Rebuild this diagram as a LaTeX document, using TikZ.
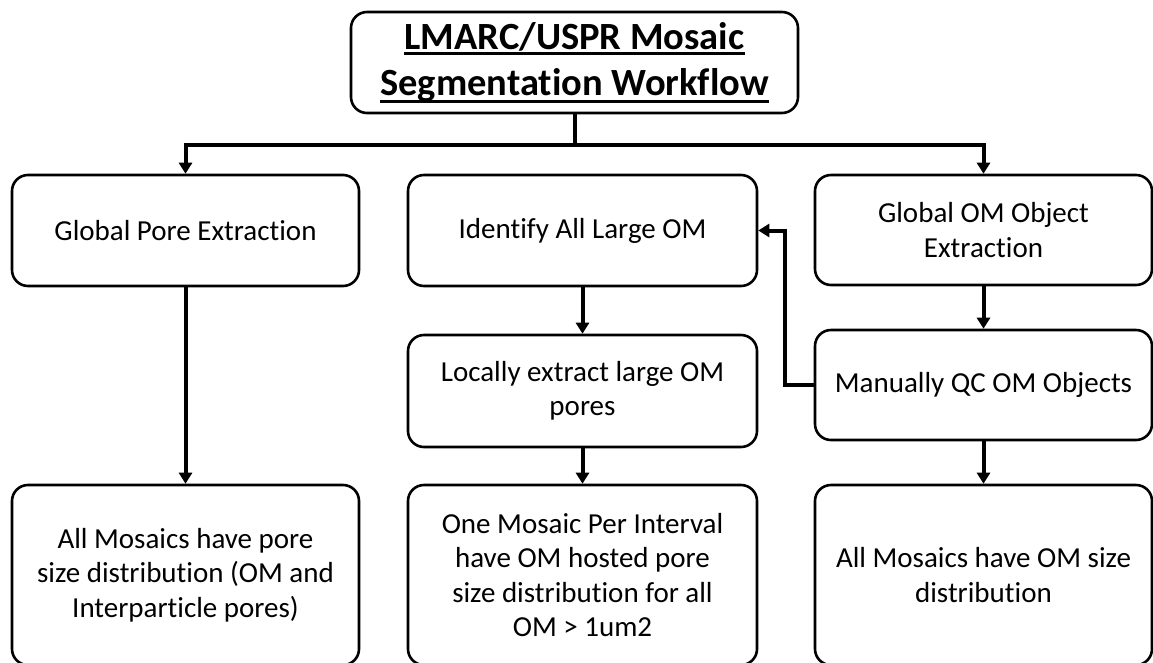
\documentclass[tikz,border=0pt]{standalone}
\usepackage{fontspec}
\setmainfont{Carlito}[Ligatures=NoCommon,RawFeature={-liga;-calt;-clig}]
\usetikzlibrary{arrows.meta}
\newcommand\myul[2]{\setbox0\hbox{#2}\rlap{\rule[-#1]{\wd0}{2.5pt}}\box0}
\begin{document}
\begin{tikzpicture}[x=1pt,y=-1pt,
  box/.style={draw, line width=2.6pt, rounded corners=16pt, align=center,
    inner sep=0pt, font=\fontsize{29}{34.5}\selectfont},
  conn/.style={line width=4pt, -{Triangle[width=13pt,length=11pt]}},
  plain/.style={line width=4pt}]
\clip (0,0) rectangle (1153,662);
\node[box, minimum width=447pt, minimum height=101pt,
  font=\bfseries\fontsize{38.5}{46}\selectfont] (T) at (574.5,62.5)
  {\myul{5pt}{LMARC/USPR Mosaic}\\\myul{7pt}{Segmentation Workflow}};
\node[box, minimum width=347pt, minimum height=111pt] (L1) at (185.5,230.5) {Global Pore Extraction};
\node[box, minimum width=349pt, minimum height=111pt] (M1) at (582.5,230.5) {Identify All Large OM};
\node[box, minimum width=337pt, minimum height=110pt] (R1) at (983.5,230) {Global OM Object\\Extraction};
\node[box, minimum width=349pt, minimum height=112pt] (M2) at (582.5,391) {Locally extract large OM\\pores};
\node[box, minimum width=337pt, minimum height=110pt] (R2) at (983.5,385) {Manually QC OM Objects};
\node[box, minimum width=347pt, minimum height=180pt] (L3) at (185.5,575) {All Mosaics have pore\\size distribution (OM and\\Interparticle pores)};
\node[box, minimum width=349pt, minimum height=180pt] (M3) at (582.5,575) {One Mosaic Per Interval\\have OM hosted pore\\size distribution for all\\OM > 1um2};
\node[box, minimum width=337pt, minimum height=180pt] (R3) at (983.5,575) {All Mosaics have OM size\\distribution};
\draw[plain] (T.south) -- ++(0,31) coordinate (j);
\draw[conn] (j) -| (L1.north);
\draw[conn] (j) -| (R1.north);
\draw[conn] (L1.south) -- (L3.north);
\draw[conn] (M1.south) -- (M2.north);
\draw[conn] (M2.south) -- (M3.north);
\draw[conn] (R1.south) -- (R2.north);
\draw[conn] (R2.south) -- (R3.north);
\draw[conn] (R2.west) -- ++(-29,0) |- (M1.east);
\end{tikzpicture}
\end{document}
